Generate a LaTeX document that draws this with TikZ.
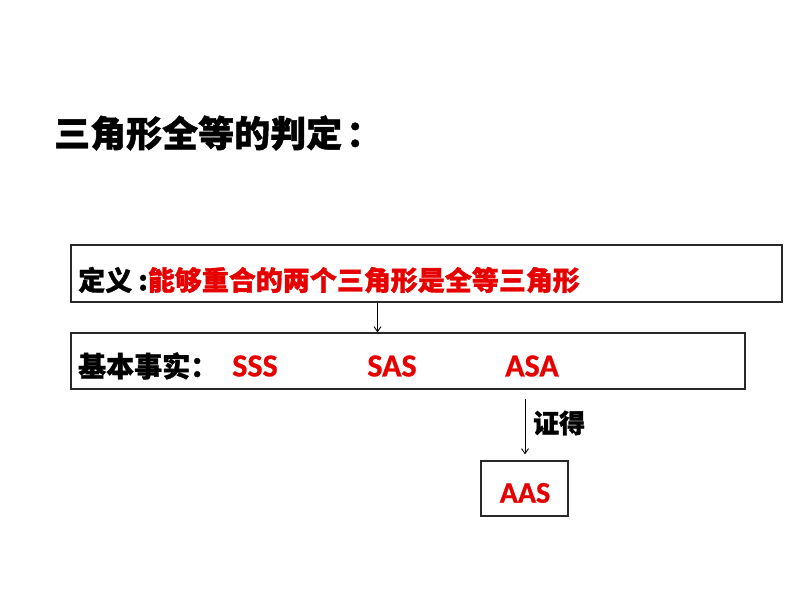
\documentclass[tikz,border=0pt]{standalone}
\usepackage{fontspec}
\newfontfamily\cjk{Noto Sans CJK SC}[BoldFeatures={FakeBold=1.2}]
\newfontfamily\lat{Carlito}[BoldFeatures={FakeBold=0.8}]
\usetikzlibrary{arrows.meta}
\definecolor{myred}{RGB}{230,0,0}
\definecolor{boxline}{RGB}{40,40,40}
\tikzset{
  box/.style={draw=boxline, line width=1.3pt, inner sep=0pt, fill=none},
  cjktxt/.style={font=\cjk\bfseries\fontsize{#1}{#1}\selectfont, inner sep=0pt, anchor=west},
  lattxt/.style={font=\lat\bfseries\fontsize{#1}{#1}\selectfont, inner sep=0pt, text=myred},
  conn/.style={draw=black, line width=0.9pt, -{Straight Barb[length=5pt,width=7pt]}}
}
\begin{document}
\begin{tikzpicture}[x=1pt,y=-1pt]
\useasboundingbox (0,0) rectangle (794,596);
\fill[white] (0,0) rectangle (794,596);
\node[cjktxt=36] (title) at (54,133) {三角形全等的判定\hspace{4pt}：};
\node[box, minimum width=711pt, minimum height=57pt] (b1) at (426.5,273.5) {};
\node[cjktxt=27] (def) at (78,280) {定义 :\textcolor{myred}{能够重合的两个三角形是全等三角形}};
\node[box, minimum width=674pt, minimum height=56pt] (b2) at (408,361) {};
\node[cjktxt=28] (fact) at (78,366) {基本事实：};
\node[lattxt=32] (sss) at (255,366) {SSS};
\node[lattxt=32] (sas) at (392,366) {SAS};
\node[lattxt=32] (asa) at (532,366) {ASA};
\coordinate (x1) at (377.5,0);
\coordinate (x2) at (525,0);
\draw[conn] (b1.south -| x1) -- (b2.north -| x1);
\node[box, minimum width=87pt, minimum height=55pt] (b3) at (524.5,488.5) {};
\node[lattxt=30] (aas) at (525,493) {AAS};
\draw[conn, shorten <=9pt, shorten >=6pt] (b2.south -| x2) -- (b3.north -| x2);
\node[cjktxt=26] (zd) at (533,423) {证得};
\end{tikzpicture}
\end{document}
